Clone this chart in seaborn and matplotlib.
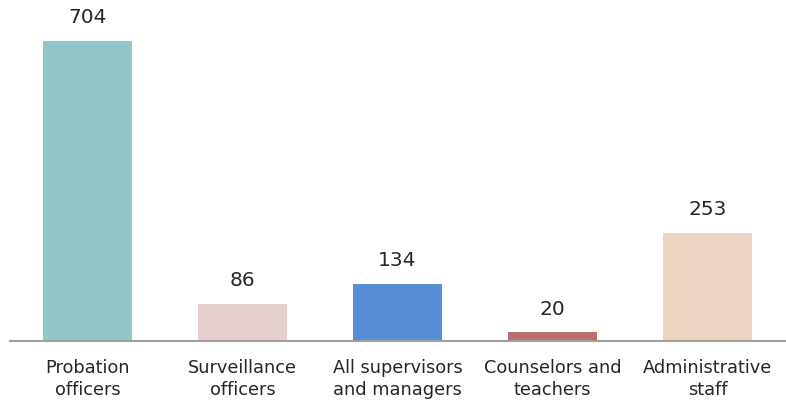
import matplotlib
matplotlib.use("Agg")
import matplotlib.pyplot as plt
import seaborn as sns
import pandas as pd

categories = ["Probation\nofficers", "Surveillance\nofficers", "All supervisors\nand managers",
              "Counselors and\nteachers", "Administrative\nstaff"]
counts = [704, 86, 134, 20, 253]
colors = ["#92C7CA", "#E8CFCF", "#558ED5", "#BA6E6E", "#EBD5C0"]

sns.set_theme(style="white")
plt.rcParams["font.family"] = ["DejaVu Sans"]

df = pd.DataFrame({"category": categories, "count": counts})

fig = plt.figure(figsize=(7.86, 4.03), dpi=100)
ax = fig.add_axes([10 / 786, 62 / 403, 775 / 786, 341 / 403])

sns.barplot(data=df, x="category", y="count", hue="category", palette=colors,
            legend=False, width=0.574, saturation=1, linewidth=0, ax=ax)

for i, v in enumerate(counts):
    ax.annotate(str(v), (i, v), xytext=(0, 10), textcoords="offset points",
                ha="center", va="bottom", fontsize=14.5, color="#262626")

ax.set_xlim(-0.5, 4.5)
ax.set_ylim(0, 800)
ax.set_xlabel("")
ax.set_ylabel("")
ax.set_yticks([])
for s in ["top", "left", "right"]:
    ax.spines[s].set_visible(False)
ax.spines["bottom"].set_color("#A0A0A0")
ax.spines["bottom"].set_linewidth(1.5)
ax.tick_params(axis="x", length=0, pad=13, labelsize=12.8, labelcolor="#262626")
for lbl in ax.get_xticklabels():
    lbl.set_linespacing(1.3)

fig.savefig("out.png", dpi=100)
